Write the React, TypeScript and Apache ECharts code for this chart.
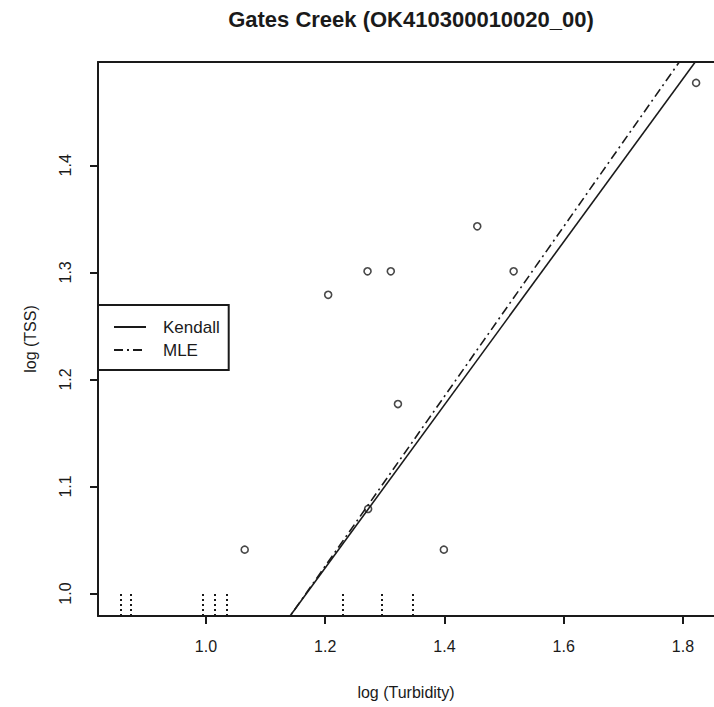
import React, { useEffect, useRef } from "react";
import * as echarts from "echarts";

const titleText = "Gates Creek (OK410300010020_00)";
const xAxisName = "log (Turbidity)";
const yAxisName = "log (TSS)";
const xTicks = [1.0, 1.2, 1.4, 1.6, 1.8];
const yTicks = [1.0, 1.1, 1.2, 1.3, 1.4];
const xRange = [0.819, 1.852];
const yRange = [0.979, 1.4965];

// detected observations
const turbidity = [1.065, 1.205, 1.271, 1.272, 1.31, 1.322, 1.399, 1.455, 1.516, 1.822];
const tss = [1.041, 1.279, 1.301, 1.079, 1.301, 1.177, 1.041, 1.343, 1.301, 1.477];
// censored observations (TSS below detection limit)
const censoredTurbidity = [0.857, 0.874, 0.994, 1.015, 1.035, 1.229, 1.294, 1.347];
const censorLimit = 1.0;

// regression coefficients [intercept, slope]
const kendallCoef = [0.11, 0.7616];
const mleCoef = [0.074, 0.793];
const legendNames = ["Kendall", "MLE"];

const FONT = "'Liberation Sans', Arial, sans-serif";
const INK = "#1a1a1a";

function lineData(coef: number[]) {
  return xRange.map((x) => [x, coef[0] + coef[1] * x]);
}

export default function App() {
  const ref = useRef<HTMLDivElement>(null);
  useEffect(() => {
    if (!ref.current) return;
    const chart = echarts.init(ref.current, null, { renderer: "svg" });
    const axisCommon = {
      axisLine: { show: true, onZero: false, lineStyle: { color: INK, width: 2 } },
      splitLine: { show: false },
    };
    chart.setOption({
      animation: false,
      backgroundColor: "#ffffff",
      color: [INK, INK, INK],
      title: {
        text: titleText,
        left: 406,
        top: 3,
        textAlign: "center",
        textStyle: { fontFamily: FONT, fontSize: 22, fontWeight: "bold", color: INK },
      },
      grid: { left: 98, top: 62, right: 0, bottom: 91 },
      legend: {
        data: legendNames,
        orient: "vertical",
        left: 98,
        top: 305,
        padding: [13, 9, 11, 15],
        itemGap: 5,
        itemWidth: 32,
        itemHeight: 14,
        borderColor: INK,
        borderWidth: 2,
        backgroundColor: "#ffffff",
        itemStyle: { color: "rgba(0,0,0,0)", borderColor: "rgba(0,0,0,0)", borderWidth: 0 },
        textStyle: { fontFamily: FONT, fontSize: 17, color: INK, lineHeight: 18, padding: [0, 0, 0, 12] },
      },
      xAxis: [
        {
          ...axisCommon,
          type: "value",
          min: xRange[0],
          max: xRange[1],
          name: xAxisName,
          nameLocation: "middle",
          nameGap: 68,
          nameTextStyle: { fontFamily: FONT, fontSize: 16, color: INK },
          axisTick: { show: true, length: 8, customValues: xTicks, lineStyle: { color: INK, width: 2 } },
          axisLabel: {
            customValues: xTicks,
            margin: 22,
            fontFamily: FONT,
            fontSize: 16,
            color: INK,
            formatter: (v: number) => v.toFixed(1),
          },
        },
        {
          ...axisCommon,
          type: "value",
          position: "top",
          min: xRange[0],
          max: xRange[1],
          axisTick: { show: false },
          axisLabel: { show: false },
        },
      ],
      yAxis: {
        ...axisCommon,
        type: "value",
        min: yRange[0],
        max: yRange[1],
        name: yAxisName,
        nameLocation: "middle",
        nameRotate: 90,
        nameGap: 60,
        nameTextStyle: { fontFamily: FONT, fontSize: 16, color: INK },
        axisTick: { show: true, length: 8, customValues: yTicks, lineStyle: { color: INK, width: 2 } },
        axisLabel: {
          customValues: yTicks,
          rotate: 90,
          margin: 25,
          fontFamily: FONT,
          fontSize: 16,
          color: INK,
          formatter: (v: number) => v.toFixed(1),
        },
      },
      series: [
        {
          name: "Observed",
          type: "scatter",
          data: turbidity.map((x, i) => [x, tss[i]]),
          symbol: "circle",
          symbolSize: 7,
          itemStyle: { color: "#ffffff", borderColor: INK, borderWidth: 1.6 },
          markLine: {
            silent: true,
            symbol: "none",
            label: { show: false },
            lineStyle: { color: INK, width: 2, type: [2, 3] },
            data: censoredTurbidity.map((x) => [
              { coord: [x, yRange[0]] },
              { coord: [x, censorLimit] },
            ]),
          },
        },
        {
          name: legendNames[0],
          type: "line",
          data: lineData(kendallCoef),
          showSymbol: false,
          symbol: "none",
          clip: true,
          itemStyle: { color: INK },
          lineStyle: { color: INK, width: 1.6, type: "solid" },
        },
        {
          name: legendNames[1],
          type: "line",
          data: lineData(mleCoef),
          showSymbol: false,
          symbol: "none",
          clip: true,
          itemStyle: { color: INK },
          lineStyle: { color: INK, width: 1.6, type: [9, 4, 2, 4] },
        },
      ],
    });
    return () => chart.dispose();
  }, []);
  return (
    <div
      ref={ref}
      style={{ position: "absolute", left: 0, top: 0, width: 714, height: 707, background: "#fff" }}
    />
  );
}
